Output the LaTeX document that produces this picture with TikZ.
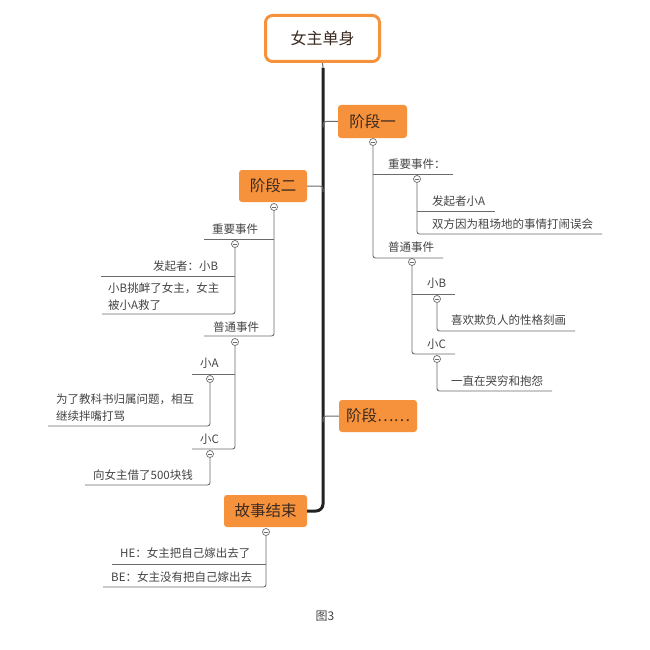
\documentclass[tikz,border=0pt]{standalone}
\usepackage{fontspec}
\setmainfont{Noto Sans CJK SC}
\definecolor{accent}{HTML}{F7923C}
\definecolor{txt}{HTML}{444444}
\definecolor{boxtxt}{HTML}{3A2A20}
\definecolor{lne}{HTML}{6A6A6A}
\definecolor{trunkc}{HTML}{222222}
\begin{document}
\begin{tikzpicture}[x=1pt,y=-1pt,
  sub/.style={anchor=west,inner sep=0pt,text=txt,font=\fontsize{11.5}{17}\selectfont},
  subl/.style={sub,align=left},
  topic/.style={rectangle,rounded corners=3pt,fill=accent,inner sep=0pt,text=boxtxt,font=\fontsize{15.5}{18}\selectfont},
  toggle/.style={circle,draw=lne,fill=white,line width=0.7pt,minimum size=7pt,inner sep=0pt,
     path picture={\draw[lne,line width=0.6pt] ([xshift=-2pt]path picture bounding box.center) -- ([xshift=2pt]path picture bounding box.center);}},
  branch/.style={draw=lne,line width=0.9pt,rounded corners=2.5pt},
  link/.style={draw=lne,line width=1pt,rounded corners=3pt},
  trunk/.style={draw=trunkc,line width=3pt,rounded corners=7pt},
]
\useasboundingbox[fill=white] (0,0) rectangle (650,650);

% root
\node[draw=accent,line width=3pt,fill=white,rounded corners=7pt,minimum width=114pt,minimum height=46pt,
  text=boxtxt,font=\fontsize{16}{18}\selectfont] (root) at (322.5,38.5) {女主单身};
% topics
\node[topic,minimum width=69pt,minimum height=33pt] (s1) at (372.5,121.5) {阶段一};
\node[topic,minimum width=68pt,minimum height=32pt] (s2) at (273,186) {阶段二};
\node[topic,minimum width=78pt,minimum height=32pt] (s3) at (378,416) {阶段……};
\node[topic,minimum width=83pt,minimum height=32pt] (s4) at (265.5,511) {故事结束};

% trunk
\coordinate (tk) at (323,68);
\draw[lne,line width=1pt] (root.south) -- (tk);
\draw[trunk] (tk) |- (s4.east);
\draw[link] (s1.west) -| ([yshift=-6pt]tk |- s1.west);
\draw[link] (s2.east) -| ([yshift=-6pt]tk |- s2.east);
\draw[link] (s3.west) -| ([yshift=-6pt]tk |- s3.west);

% ---------- stage 1 ----------
\node[toggle] (c1) at (373,142) {};
\coordinate (u11) at (453,174);
\node[sub] (t11) at (388,164) {重要事件：};
\node[toggle] (c11) at (417,179) {};
\coordinate (u111) at (495,211);
\node[sub] (t111) at (432,201) {发起者小A};
\coordinate (u112) at (602,234);
\node[sub] (t112) at (432,224) {双方因为租场地的事情打闹误会};
\coordinate (u12) at (443,258);
\node[sub] (t12) at (388,247) {普通事件};
\node[toggle] (c12) at (412,262) {};
\coordinate (u121) at (455,294);
\node[sub] (t121) at (427,283) {小B};
\node[toggle] (c121) at (437,299) {};
\coordinate (u1211) at (575,331);
\node[sub] (t1211) at (451,320) {喜欢欺负人的性格刻画};
\coordinate (u122) at (455,354);
\node[sub] (t122) at (427,344) {小C};
\node[toggle] (c122) at (437,359) {};
\coordinate (u1221) at (552,391);
\node[sub] (t1221) at (451,381) {一直在哭穷和抱怨};

\draw[branch] (c1.south) |- (u12);
\draw[branch] (c1 |- u11) -- (u11);
\draw[branch] (c11.south) |- (u112);
\draw[branch] (c11 |- u111) -- (u111);
\draw[branch] (c12.south) |- (u122);
\draw[branch] (c12 |- u121) -- (u121);
\draw[branch] (c121.south) |- (u1211);
\draw[branch] (c122.south) |- (u1221);

% ---------- stage 2 ----------
\node[toggle] (c2) at (274,207) {};
\coordinate (u21) at (204,239);
\node[sub] (t21) at (212,229) {重要事件};
\node[toggle] (c21) at (235,244) {};
\coordinate (u211) at (101,276);
\node[sub] (t211) at (153,266) {发起者：小B};
\coordinate (u212) at (102,314);
\node[subl] (t212) at (108,297) {小B挑衅了女主，女主\\被小A救了};
\coordinate (u22) at (204,336);
\node[sub] (t22) at (213,327) {普通事件};
\node[toggle] (c22) at (235,342) {};
\coordinate (u221) at (192,374);
\node[sub] (t221) at (200,363) {小A};
\node[toggle] (c221) at (210,379) {};
\coordinate (u2211) at (48,426);
\node[subl] (t2211) at (56,408) {为了教科书归属问题，相互\\继续拌嘴打骂};
\coordinate (u222) at (192,449);
\node[sub] (t222) at (200,439) {小C};
\node[toggle] (c222) at (210,454) {};
\coordinate (u2221) at (85,485);
\node[sub] (t2221) at (93,475) {向女主借了500块钱};

\draw[branch] (c2.south) |- (u22);
\draw[branch] (c2 |- u21) -- (u21);
\draw[branch] (c21.south) |- (u212);
\draw[branch] (c21 |- u211) -- (u211);
\draw[branch] (c22.south) |- (u222);
\draw[branch] (c22 |- u221) -- (u221);
\draw[branch] (c221.south) |- (u2211);
\draw[branch] (c222.south) |- (u2221);

% ---------- ending ----------
\node[toggle] (c4) at (266,532) {};
\coordinate (u41) at (112,564);
\node[sub] (t41) at (120,553) {HE：女主把自己嫁出去了};
\coordinate (u42) at (103,587);
\node[sub] (t42) at (111,577) {BE：女主没有把自己嫁出去};
\draw[branch] (c4.south) |- (u42);
\draw[branch] (c4 |- u41) -- (u41);

% caption
\node[text=txt,font=\fontsize{12}{14}\selectfont,inner sep=0pt] (cap) at (325,616) {图3};
\end{tikzpicture}
\end{document}
